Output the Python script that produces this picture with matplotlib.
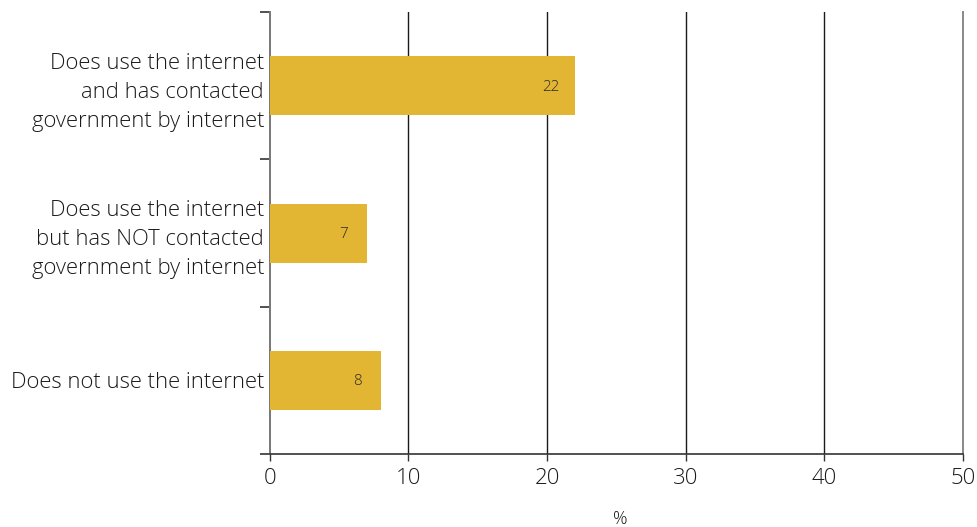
import matplotlib
matplotlib.use("Agg")
import matplotlib.pyplot as plt

categories = [
    "Does use the internet\nand has contacted\ngovernment by internet",
    "Does use the internet\nbut has NOT contacted\ngovernment by internet",
    "Does not use the internet",
]
values = [22, 7, 8]
x_ticks = [0, 10, 20, 30, 40, 50]
x_label = "%"

plt.rcParams["font.family"] = ["Open Sans", "DejaVu Sans"]

fig = plt.figure(figsize=(9.77, 5.27), dpi=100)
ax = fig.add_axes([0.276, 0.1385, 0.7097, 0.8385])

bar_color = "#E2B633"
ypos = list(range(len(categories)))
bars = ax.barh(ypos, values, height=0.4, color=bar_color, zorder=3)

for y, v in zip(ypos, values):
    ax.text(v - 1.7, y + 0.01, f"{v:.0f}", ha="center", va="center",
            fontsize=11, color="#2a2a2a", fontweight="light", zorder=4)

ax.set_ylim(len(categories) - 0.5, -0.5)
ax.set_xlim(0, 50)
ax.set_xticks(x_ticks)
ax.set_xticklabels([str(t) for t in x_ticks], fontsize=16, fontweight="light",
                   color="#1a1a1a")

# category labels centred in each band; ticks mark the band edges
ax.set_yticks(ypos)
ax.set_yticklabels(categories, fontsize=15.8, fontweight="light",
                   color="#1a1a1a", linespacing=1.5)
ax.tick_params(axis="y", which="major", length=0, pad=4)
ax.set_yticks([-0.5, 0.5, 1.5, 2.5], minor=True)
ax.tick_params(axis="y", which="minor", length=7, width=1.2, color="#333333",
               direction="out")
ax.tick_params(axis="x", length=5, width=1, color="#333333", pad=5)

for t in x_ticks[1:-1]:
    ax.axvline(t, color="#1a1a1a", lw=1, zorder=1)

ax.spines["top"].set_visible(False)
ax.spines["left"].set_color("#777777")
ax.spines["left"].set_linewidth(1.4)
ax.spines["right"].set_color("#888888")
ax.spines["right"].set_linewidth(1.4)
ax.spines["bottom"].set_color("#333333")
ax.spines["bottom"].set_linewidth(1.2)

fig.text(0.635, 0.015, x_label, ha="center", va="center", fontsize=13,
         fontweight="light", color="#1a1a1a")

fig.savefig("out.png", dpi=100)
